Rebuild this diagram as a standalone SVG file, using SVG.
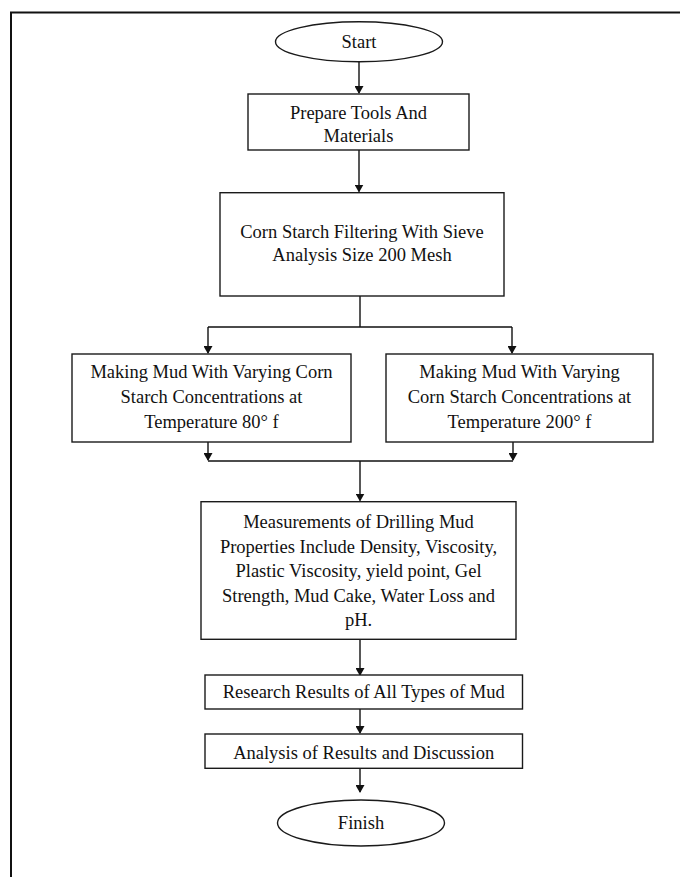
<svg xmlns="http://www.w3.org/2000/svg" width="680" height="877" viewBox="0 0 680 877">
<style>
.box{fill:#fff;stroke:#1a1a1a;stroke-width:1.4}
.t{font-family:"Liberation Serif","Times New Roman",serif;font-size:18.5px;fill:#111;text-anchor:middle}
.c{fill:none;stroke:#111;stroke-width:1.4}
</style>
<defs>
<marker id="ah" markerWidth="8" markerHeight="9" refX="7" refY="4.5" orient="auto" markerUnits="userSpaceOnUse">
<path d="M0,0 L8,4.5 L0,9 Z" fill="#111"/>
</marker>
</defs>
<rect width="680" height="877" fill="#fff"/>
<path d="M11,877 V12.5 H680" fill="none" stroke="#111" stroke-width="2"/>
<g id="connectors">
<path class="c" d="M359,62 V93" marker-end="url(#ah)"/>
<path class="c" d="M359,150 V191.5" marker-end="url(#ah)"/>
<path class="c" d="M360,296 V327 M208,327 H512"/>
<path class="c" d="M208,327 V353" marker-end="url(#ah)"/>
<path class="c" d="M512,327 V353" marker-end="url(#ah)"/>
<path class="c" d="M208,442 V460" marker-end="url(#ah)"/>
<path class="c" d="M513,442 V460" marker-end="url(#ah)"/>
<path class="c" d="M208,461 H513"/>
<path class="c" d="M360,461 V500.5" marker-end="url(#ah)"/>
<path class="c" d="M360,639 V675" marker-end="url(#ah)"/>
<path class="c" d="M360,709 V733" marker-end="url(#ah)"/>
<path class="c" d="M360,768 V792" marker-end="url(#ah)"/>
</g>
<g id="start">
<ellipse class="box" cx="359" cy="41.7" rx="83.5" ry="20"/>
<text class="t" x="359" y="48">Start</text>
</g>
<g id="prepare">
<rect class="box" x="248" y="94" width="221" height="56"/>
<text class="t" x="358.5" y="119">Prepare Tools And</text>
<text class="t" x="358.5" y="142">Materials</text>
</g>
<g id="filtering">
<rect class="box" x="220" y="192.7" width="284" height="103.3"/>
<text class="t" x="362" y="238">Corn Starch Filtering With Sieve</text>
<text class="t" x="362" y="261">Analysis Size 200 Mesh</text>
</g>
<g id="mud80">
<rect class="box" x="72" y="354" width="279" height="88"/>
<text class="t" x="211.5" y="378">Making Mud With Varying Corn</text>
<text class="t" x="211.5" y="403">Starch Concentrations at</text>
<text class="t" x="211.5" y="428">Temperature 80° f</text>
</g>
<g id="mud200">
<rect class="box" x="386" y="354" width="267" height="88"/>
<text class="t" x="519.5" y="378">Making Mud With Varying</text>
<text class="t" x="519.5" y="403">Corn Starch Concentrations at</text>
<text class="t" x="519.5" y="428">Temperature 200° f</text>
</g>
<g id="measurements">
<rect class="box" x="201" y="501.7" width="315" height="137.6"/>
<text class="t" x="358.5" y="528">Measurements  of Drilling Mud</text>
<text class="t" x="358.5" y="552.5">Properties Include Density, Viscosity,</text>
<text class="t" x="358.5" y="577">Plastic Viscosity, yield point, Gel</text>
<text class="t" x="358.5" y="601.5">Strength, Mud Cake, Water Loss and</text>
<text class="t" x="358.5" y="626">pH.</text>
</g>
<g id="research">
<rect class="box" x="205" y="675" width="317.5" height="34"/>
<text class="t" x="363.7" y="698">Research Results of All Types of Mud</text>
</g>
<g id="analysis">
<rect class="box" x="205" y="734" width="317.5" height="34.3"/>
<text class="t" x="363.7" y="759">Analysis of Results and Discussion</text>
</g>
<g id="finish">
<ellipse class="box" cx="361" cy="823" rx="83.5" ry="23"/>
<text class="t" x="361" y="829">Finish</text>
</g>
</svg>
